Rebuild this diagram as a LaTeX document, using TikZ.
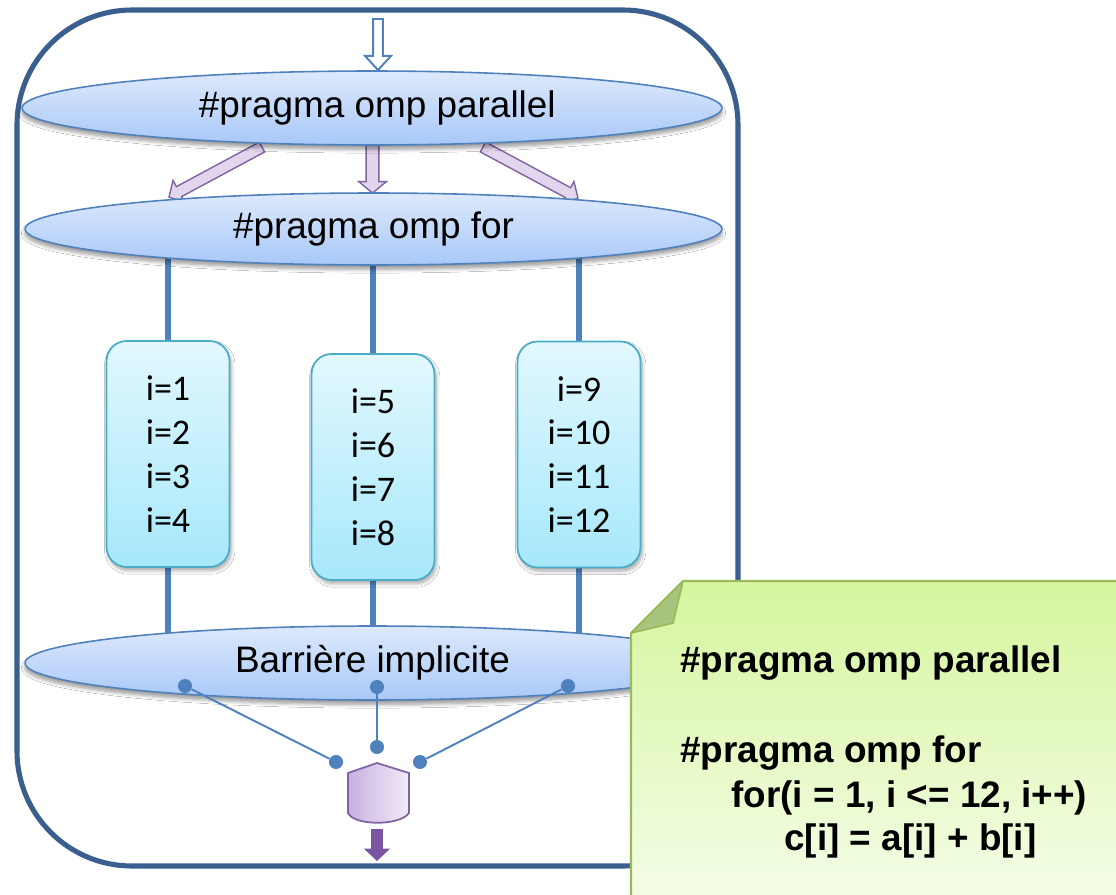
\documentclass[tikz,border=0pt]{standalone}
\usepackage{fontspec}
\setmainfont{Liberation Sans}
\newfontfamily\calib{Carlito}
\usetikzlibrary{shapes.geometric,calc,backgrounds,shadows.blur}
\definecolor{frameblue}{HTML}{3A5F8F}
\definecolor{lineblue}{HTML}{4F81BD}
\definecolor{elltop}{HTML}{DDE9FC}
\definecolor{ellbot}{HTML}{A8C8F8}
\definecolor{boxtop}{HTML}{E2F8FE}
\definecolor{boxbot}{HTML}{A6E8FB}
\definecolor{boxborder}{HTML}{4BACC6}
\definecolor{purpfill}{HTML}{E2D6EE}
\definecolor{purpborder}{HTML}{8064A2}
\definecolor{purpdark}{HTML}{7A56A2}
\definecolor{hexleft}{HTML}{C7B0E0}
\definecolor{hexright}{HTML}{F2ECF9}
\definecolor{notetop}{HTML}{D6F59E}
\definecolor{notebot}{HTML}{F4FDE8}
\definecolor{noteborder}{HTML}{9BBB59}
\definecolor{notefold}{HTML}{A9C47F}
% #1 style, #2 from, #3 to, #4 shaft half width, #5 head half width, #6 head length
\newcommand\fatarrow[6]{%
  \coordinate (fa-c) at ($(#3)!#6!(#2)$);
  \path[#1] ($(#2)!#4!90:(#3)$) -- ($(fa-c)!#4!90:(#3)$) -- ($(fa-c)!#5!90:(#3)$) -- (#3)
    -- ($(fa-c)!#5!-90:(#3)$) -- ($(fa-c)!#4!-90:(#3)$) -- ($(#2)!#4!-90:(#3)$) -- cycle;
}
\tikzset{
  ell/.style={ellipse, draw=lineblue, line width=0.9pt, top color=elltop, bottom color=ellbot,
    inner sep=0pt, font=\fontsize{21}{25}\selectfont,
    blur shadow={shadow blur steps=6, shadow xshift=0pt, shadow yshift=-2.5pt, shadow opacity=40}},
  ibox/.style={rectangle, rounded corners=0.4cm, draw=boxborder, line width=1pt,
    top color=boxtop, bottom color=boxbot, align=center, inner sep=0pt,
    minimum width=2.46cm, minimum height=4.52cm,
    font=\calib\fontsize{20.5}{25}\selectfont,
    blur shadow={shadow blur steps=6, shadow xshift=1pt, shadow yshift=-2pt, shadow opacity=35}},
  vline/.style={lineblue, line width=3.4pt},
  thinline/.style={lineblue, line width=1.1pt},
  dot/.style={circle, fill=lineblue, inner sep=0pt, minimum size=8pt},
  hollowblue/.style={fill=white, draw=lineblue, line width=1.1pt},
  purparrow/.style={fill=purpfill, draw=purpborder, line width=0.8pt},
  darkarrow/.style={fill=purpdark},
  notetxt/.style={anchor=base west, inner sep=0pt, font=\bfseries\fontsize{21}{25}\selectfont},
}
\begin{document}
\begin{tikzpicture}[x=0.02cm, y=-0.02cm]
\clip (0,0) rectangle (1116,895);

% outer frame
\draw[frameblue, line width=2.9pt, rounded corners=2.3cm] (17,10) rectangle (738,866);

% ellipses
\node[ell, minimum width=14cm, minimum height=1.48cm] (e1) at (372,108) {\hspace*{6pt}\#pragma omp parallel};
\node[ell, minimum width=13.94cm, minimum height=1.44cm] (e2) at (373.5,229) {\#pragma omp for};
\node[ell, minimum width=13.9cm, minimum height=1.48cm] (e3) at (372.5,663) {Barrière implicite};

% iteration boxes
\node[ibox] (b1) at (168,454) {i=1\\i=2\\i=3\\i=4};
\node[ibox] (b2) at (373,467) {i=5\\i=6\\i=7\\i=8};
\node[ibox] (b3) at (579,454.5) {i=9\\i=10\\i=11\\i=12};

% arrow coordinates
\coordinate (inTop) at (378,19);
\coordinate (inTip) at (378,70);
\coordinate (pL0) at (262,147);
\coordinate (pL1) at (169,197);
\coordinate (pM0) at (372.5,145);
\coordinate (pM1) at (372.5,193);
\coordinate (pR0) at (483,147);
\coordinate (pR1) at (578,198);

\begin{pgfonlayer}{background}
  \fill[white] (0,0) rectangle (1116,895);
  \draw[vline] (b1.north) -- (b1.north |- e2.center);
  \draw[vline] (b1.south) -- (b1.south |- e3.center);
  \draw[vline] (b2.north) -- (b2.north |- e2.center);
  \draw[vline] (b2.south) -- (b2.south |- e3.center);
  \draw[vline] (b3.north) -- (b3.north |- e2.center);
  \draw[vline] (b3.south) -- (b3.south |- e3.center);
  \fatarrow{purparrow}{pL0}{pL1}{3.2pt}{7.2pt}{6.5pt}
  \fatarrow{purparrow}{pM0}{pM1}{3.6pt}{7.9pt}{6.5pt}
  \fatarrow{purparrow}{pR0}{pR1}{3.2pt}{7.2pt}{6.5pt}
\end{pgfonlayer}

% input arrow
\fatarrow{hollowblue}{inTop}{inTip}{2.8pt}{7.4pt}{8pt}

% barrier dots and join lines
\node[dot] (d1) at (185,686) {};
\node[dot] (d2) at (377,687) {};
\node[dot] (d3) at (568,686) {};
\node[dot] (j1) at (336,762) {};
\node[dot] (j2) at (377,747) {};
\node[dot] (j3) at (420,762) {};
\draw[thinline] (d1) -- (j1);
\draw[thinline] (d2) -- (j2);
\draw[thinline] (d3) -- (j3);

% merge shape
\draw[left color=hexleft, right color=hexright, draw=purpborder, line width=1pt]
  (377,763) -- (409,773) -- (409,813) .. controls (400,826) and (354,826) .. (348,813) -- (348,773) -- cycle;
\coordinate (outTop) at (377,829);
\coordinate (outTip) at (377,861);
\fatarrow{darkarrow}{outTop}{outTip}{3.4pt}{7.4pt}{7pt}

% note
\draw[top color=notetop, bottom color=notebot, draw=noteborder, line width=1.2pt]
  (683,581) -- (1130,581) -- (1130,905) -- (631,905) -- (631,633) -- cycle;
\draw[fill=notefold, draw=noteborder, line width=1pt, line join=round]
  (683,581) -- (673,623) -- (631,633) -- cycle;
\node[notetxt] (n1) at (680,672) {\#pragma omp parallel};
\node[notetxt] (n2) at (680,762) {\#pragma omp for};
\node[notetxt] (n3) at (731,807) {for(i = 1, i <= 12, i++)};
\node[notetxt] (n4) at (784,850) {c[i] = a[i] + b[i]};
\end{tikzpicture}
\end{document}
